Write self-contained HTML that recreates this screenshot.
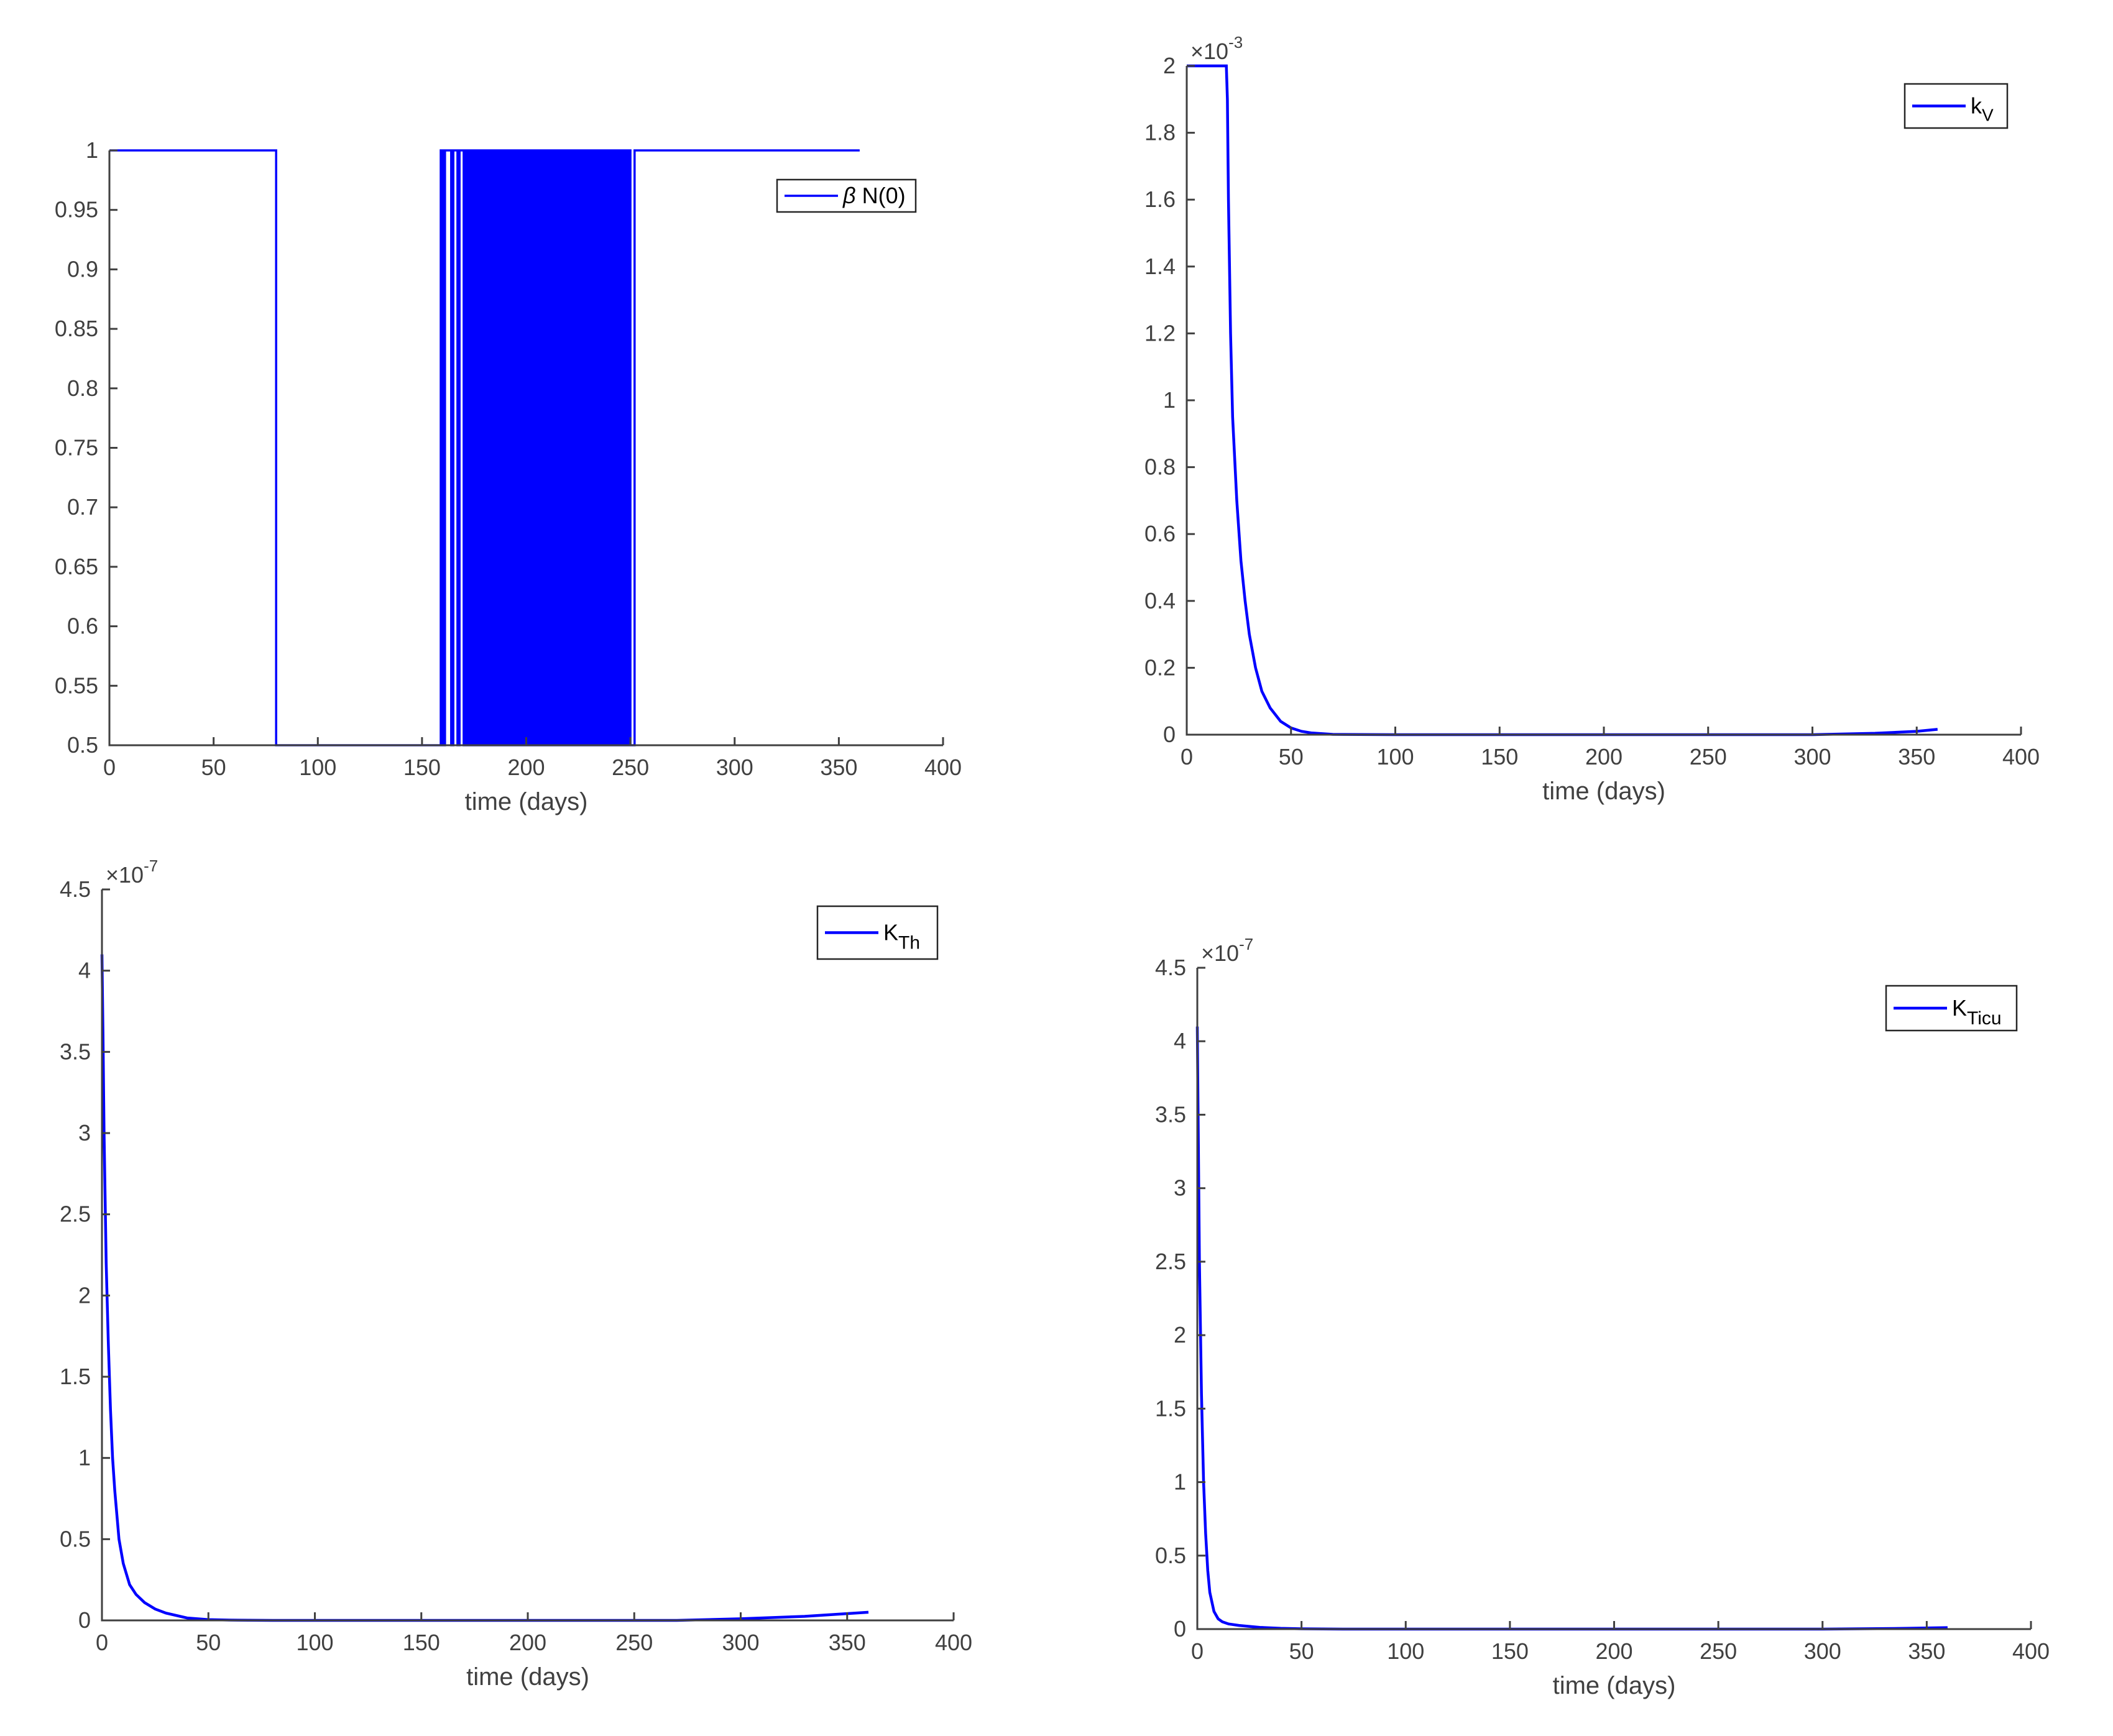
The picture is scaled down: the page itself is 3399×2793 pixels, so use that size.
<!DOCTYPE html>
<html><head><meta charset="utf-8">
<style>
html,body{margin:0;padding:0;background:#fff;}
svg text{font-family:"Liberation Sans",sans-serif;fill:#404040;}
</style></head>
<body>
<svg id="fig" width="3399" height="2788" viewBox="0 0 3399 2788" xmlns="http://www.w3.org/2000/svg">
<rect width="3399" height="2788" fill="#fff"/>
</svg>
<script>
// ---- data ----
const xTicks = [0,50,100,150,200,250,300,350,400];
// plot 1: beta N(0) bang-bang control, switching times (value toggles at each)
const betaSwitchTimes = [80,159,160,161,164,165,167,168,170,171,172,173,174,175,176,177,178,179,180,181,182,183,184,185,186,187,188,189,190,191,192,193,194,195,196,197,198,199,200,201,202,203,204,205,206,207,208,209,210,211,212,213,214,215,216,217,218,219,220,221,222,223,224,225,226,227,228,229,230,231,232,233,234,235,236,237,238,239,240,241,242,243,244,245,246,247,248,249,250,252];
const betaStartValue = 1;
const betaEnd = 360;
const betaTicks = [0.5,0.55,0.6,0.65,0.7,0.75,0.8,0.85,0.9,0.95,1];
const betaTickLabels = ["0.5","0.55","0.6","0.65","0.7","0.75","0.8","0.85","0.9","0.95","1"];
// plot 2: k_V (x1e-3)
const kvT = [0,19,19.5,20,21,22,24,26,28,30,33,36,40,45,50,55,60,70,100,300,330,350,360];
const kvV = [2,2,1.9,1.6,1.2,0.95,0.7,0.52,0.4,0.3,0.2,0.13,0.08,0.04,0.02,0.01,0.005,0.001,0,0,0.004,0.01,0.016];
const kvTicks = [0,0.2,0.4,0.6,0.8,1,1.2,1.4,1.6,1.8,2];
const kvTickLabels = ["0","0.2","0.4","0.6","0.8","1","1.2","1.4","1.6","1.8","2"];
// plot 3: K_Th (x1e-7)
const kthT = [0,0.5,1,2,3,4,5,6,8,10,13,16,20,25,30,40,50,60,80,270,300,330,360];
const kthV = [4.1,3.6,3.0,2.2,1.7,1.3,1.0,0.8,0.5,0.35,0.22,0.16,0.11,0.07,0.045,0.015,0.005,0.002,0,0,0.01,0.025,0.05];
// plot 4: K_Ticu (x1e-7)
const kticuT = [0,0.5,1,2,3,4,5,6,8,10,12,15,20,30,40,50,70,300,340,360];
const kticuV = [4.1,3.3,2.5,1.6,1.0,0.65,0.4,0.25,0.12,0.07,0.05,0.035,0.025,0.012,0.005,0.002,0,0,0.005,0.01];
const kTicks = [0,0.5,1,1.5,2,2.5,3,3.5,4,4.5];
const kTickLabels = ["0","0.5","1","1.5","2","2.5","3","3.5","4","4.5"];

const NS="http://www.w3.org/2000/svg";
const svg=document.getElementById('fig');
function mk(tag,attrs,parent){const e=document.createElementNS(NS,tag);for(const k in attrs)e.setAttribute(k,attrs[k]);(parent||svg).appendChild(e);return e;}

function axes(cfg){
  const g=mk('g',{});
  
  
  const {x0,x1,y0,y1,ymin,ymax}=cfg;
  const sx=t=>x0+(t-0)/400*(x1-x0);
  const sy=v=>y0-(v-ymin)/(ymax-ymin)*(y0-y1);
  const pts=cfg.points(sx,sy);
  const pl=mk('polyline',{points:pts.map(p=>p[0].toFixed(1)+','+p[1].toFixed(1)).join(' '),fill:'none',stroke:'#0000ff','stroke-width':cfg.lw,'stroke-linejoin':'miter'},g);
  
  
  const ax=mk('path',{d:`M${x0},${y1} L${x0},${y0} L${x1},${y0}`,fill:'none',stroke:'#404040','stroke-width':3},g);
  
  
  xTicks.forEach(t=>{
    const x=sx(t);
    mk('line',{x1:x,y1:y0,x2:x,y2:y0-13,stroke:'#404040','stroke-width':3},g);
    const tx=mk('text',{x:x,y:y0+48,'font-size':36,'text-anchor':'middle'},g);
    tx.textContent=t;
    
    
  });
  cfg.yTicks.forEach((v,i)=>{
    const y=sy(v);
    mk('line',{x1:x0,y1:y,x2:x0+13,y2:y,stroke:'#404040','stroke-width':3},g);
    const tx=mk('text',{x:x0-18,y:y+12,'font-size':36,'text-anchor':'end'},g);
    tx.textContent=cfg.yLabels[i];
    
    
  });
  const xl=mk('text',{x:(x0+x1)/2,y:y0+104,'font-size':40,'text-anchor':'middle'},g);
  xl.textContent='time (days)';
  
  
  if(cfg.exp){
    const ex=mk('text',{x:x0+6,y:y1-11,'font-size':36},g);
    
    
    const a=mk('tspan',{},ex);a.textContent='×10';
    const b=mk('tspan',{dy:-18,'font-size':26},ex);b.textContent=cfg.exp;
  }
  const L=cfg.legend;
  const lg=mk('g',{},g);
  
  
  mk('rect',{x:L.x,y:L.y,width:L.w,height:L.h,fill:'#fff',stroke:'#262626','stroke-width':2.5},lg);
  mk('line',{x1:L.x+12,y1:L.y+L.h/2,x2:L.x+98,y2:L.y+L.h/2,stroke:'#0000ff','stroke-width':cfg.lw},lg);
  const lt=mk('text',{x:L.x+106,y:L.y+L.h/2+12,'font-size':36,style:'fill:#000'},lg);
  
  
  L.text(lt);
}

axes({name:'plot-beta-n0',seriesName:'beta-n0-line',x0:176,x1:1517,y0:1199,y1:242,ymin:0.5,ymax:1,lw:3.5,
  yTicks:betaTicks,yLabels:betaTickLabels,
  points:(sx,sy)=>{let v=betaStartValue;const p=[[sx(0),sy(v)]];betaSwitchTimes.forEach(t=>{p.push([sx(t),sy(v)]);v=(v===1?0.5:1);p.push([sx(t),sy(v)]);});p.push([sx(betaEnd),sy(v)]);return p;},
  legend:{x:1250,y:289,w:223,h:52,text:t=>{const a=mk('tspan',{'font-style':'italic'},t);a.textContent='β';const b=mk('tspan',{},t);b.textContent=' N(0)';}}
});
axes({name:'plot-kv',seriesName:'kv-line',x0:1909,x1:3251,y0:1182,y1:106,ymin:0,ymax:2,lw:4.5,exp:'-3',
  yTicks:kvTicks,yLabels:kvTickLabels,
  points:(sx,sy)=>kvT.map((t,i)=>[sx(t),sy(kvV[i])]),
  legend:{x:3064,y:135,w:165,h:71,text:t=>{const a=mk('tspan',{},t);a.textContent='k';const b=mk('tspan',{dy:12,'font-size':28},t);b.textContent='V';}}
});
axes({name:'plot-kth',seriesName:'kth-line',x0:164,x1:1534,y0:2607,y1:1431,ymin:0,ymax:4.5,lw:4.5,exp:'-7',
  yTicks:kTicks,yLabels:kTickLabels,
  points:(sx,sy)=>kthT.map((t,i)=>[sx(t),sy(kthV[i])]),
  legend:{x:1315,y:1458,w:193,h:85,text:t=>{const a=mk('tspan',{},t);a.textContent='K';const b=mk('tspan',{dy:14,'font-size':30},t);b.textContent='Th';}}
});
axes({name:'plot-kticu',seriesName:'kticu-line',x0:1926,x1:3267,y0:2621,y1:1557,ymin:0,ymax:4.5,lw:4.5,exp:'-7',
  yTicks:kTicks,yLabels:kTickLabels,
  points:(sx,sy)=>kticuT.map((t,i)=>[sx(t),sy(kticuV[i])]),
  legend:{x:3034,y:1586,w:210,h:72,text:t=>{const a=mk('tspan',{},t);a.textContent='K';const b=mk('tspan',{dy:14,'font-size':30},t);b.textContent='Ticu';}}
});
</script>
</body></html>
